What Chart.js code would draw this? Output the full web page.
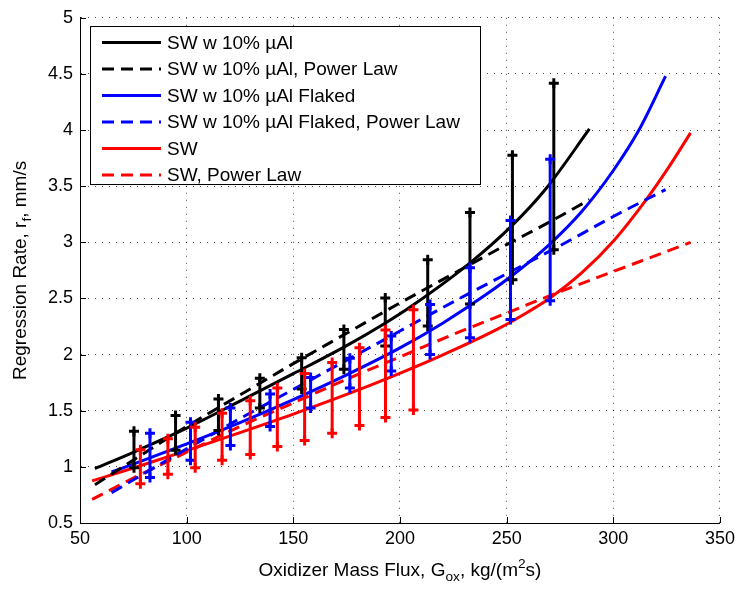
<!DOCTYPE html>
<html>
<head>
<meta charset="utf-8">
<script src="https://cdn.jsdelivr.net/npm/chart.js@4.4.0/dist/chart.umd.min.js"></script>
<style>
  html, body { margin: 0; padding: 0; background: #fff; }
  #wrap { width: 740px; height: 589px; }
</style>
</head>
<body>
<div id="wrap"><canvas id="chart" width="740" height="589"></canvas></div>
<script>
// ---- tick labels ----
const xTicks = [50, 100, 150, 200, 250, 300, 350];
const yTicks = [0.5, 1, 1.5, 2, 2.5, 3, 3.5, 4, 4.5, 5];

// ---- series names ----
const seriesNames = [
  'SW w 10% \u00b5Al',
  'SW w 10% \u00b5Al, Power Law',
  'SW w 10% \u00b5Al Flaked',
  'SW w 10% \u00b5Al Flaked, Power Law',
  'SW',
  'SW, Power Law'
];

// ---- fitted curves ----
const alFitX = [57, 75, 100, 125, 150, 175, 193, 206, 233, 252, 268.5, 288.8];
const alFitY = [0.985, 1.13, 1.345, 1.585, 1.83, 2.08, 2.28, 2.44, 2.82, 3.14, 3.48, 4.01];
const alPowX = [57, 75, 100, 125, 150, 175, 200, 225, 250, 270, 288.8];
const alPowY = [0.84, 1.06, 1.36, 1.64, 1.92, 2.19, 2.46, 2.72, 2.98, 3.18, 3.38];

const flFitX = [64.8, 80, 100, 125, 150, 175, 200, 220, 240, 255, 270, 285, 300, 312, 324.5];
const flFitY = [0.954, 1.06, 1.205, 1.395, 1.60, 1.82, 2.06, 2.28, 2.53, 2.74, 2.98, 3.27, 3.64, 4.00, 4.48];
const flPowX = [64.8, 80, 100, 125, 150, 175, 200, 225, 250, 275, 300, 324.5];
const flPowY = [0.77, 0.94, 1.16, 1.43, 1.69, 1.95, 2.21, 2.47, 2.72, 2.97, 3.23, 3.47];

const swFitX = [55.7, 75, 100, 125, 150, 175, 195, 218, 245, 260, 270, 285, 300, 315, 326, 336.2];
const swFitY = [0.875, 0.99, 1.145, 1.305, 1.47, 1.645, 1.795, 1.98, 2.22, 2.38, 2.50, 2.725, 3.01, 3.37, 3.67, 3.975];
const swPowX = [55.7, 75, 100, 125, 150, 175, 200, 225, 250, 275, 300, 336.2];
const swPowY = [0.71, 0.90, 1.13, 1.36, 1.57, 1.78, 1.98, 2.18, 2.37, 2.56, 2.74, 3.00];

// ---- measured error bars ----
const alBarX  = [75.3, 94.8, 114.9, 134.3, 153.9, 173.7, 193.1, 213.0, 232.8, 252.7, 272.1];
const alBarLo = [0.993, 1.147, 1.324, 1.525, 1.693, 1.87, 2.077, 2.254, 2.45, 2.667, 2.933];
const alBarHi = [1.318, 1.457, 1.604, 1.79, 1.973, 2.224, 2.504, 2.845, 3.266, 3.775, 4.418];

const flBarX  = [82.8, 101.8, 120.5, 139.1, 158.1, 176.5, 195.9, 214.1, 232.8, 251.8, 270.4];
const flBarLo = [0.905, 1.058, 1.19, 1.36, 1.525, 1.702, 1.855, 2.0, 2.15, 2.313, 2.48];
const flBarHi = [1.30, 1.397, 1.525, 1.649, 1.796, 1.968, 2.165, 2.446, 2.773, 3.195, 3.74];

const swBarX  = [78.3, 91.2, 104.0, 116.6, 129.8, 142.5, 155.3, 168.2, 181.0, 193.2, 206.3];
const swBarLo = [0.85, 0.934, 0.993, 1.058, 1.11, 1.182, 1.235, 1.30, 1.368, 1.44, 1.507];
const swBarHi = [1.153, 1.25, 1.353, 1.477, 1.59, 1.702, 1.831, 1.929, 2.061, 2.22, 2.40];

const BLACK = '#000000', BLUE = '#0000ff', RED = '#ff0000';
const FONT = "'Liberation Sans', Arial, Helvetica, sans-serif";
const DASH = [12, 7];

function fitSet(label, xs, ys, color, dashed){
  return {
    label: label,
    data: xs.map((x, i) => ({ x: x, y: ys[i] })),
    borderColor: color,
    backgroundColor: color,
    borderWidth: 3,
    borderDash: dashed ? DASH : [],
    pointRadius: 0,
    cubicInterpolationMode: 'monotone',
    fill: false,
    order: 10
  };
}

// each error bar = a two point line with '+' markers at both ends
function barSets(xs, lo, hi, color, order){
  return xs.map((x, i) => ({
    label: '',
    isBar: true,
    data: [{ x: x, y: lo[i] }, { x: x, y: hi[i] }],
    borderColor: color,
    backgroundColor: color,
    borderWidth: 3,
    pointStyle: 'cross',
    pointRadius: 5,
    pointBorderWidth: 3,
    pointBorderColor: color,
    fill: false,
    order: order
  }));
}

const datasets = [
  fitSet(seriesNames[0], alFitX, alFitY, BLACK, false),
  fitSet(seriesNames[1], alPowX, alPowY, BLACK, true),
  fitSet(seriesNames[2], flFitX, flFitY, BLUE, false),
  fitSet(seriesNames[3], flPowX, flPowY, BLUE, true),
  fitSet(seriesNames[4], swFitX, swFitY, RED, false),
  fitSet(seriesNames[5], swPowX, swPowY, RED, true)
].concat(
  barSets(alBarX, alBarLo, alBarHi, BLACK, 3),
  barSets(flBarX, flBarLo, flBarHi, BLUE, 2),
  barSets(swBarX, swBarLo, swBarHi, RED, 1)
);

// text with sub/superscripts
function drawRich(ctx, parts, x, y, size){
  let w = 0;
  parts.forEach(p => {
    ctx.font = ((p.sub || p.sup) ? size * 0.72 : size) + 'px ' + FONT;
    w += ctx.measureText(p.t).width;
  });
  let cx = x - w / 2;
  parts.forEach(p => {
    const s = (p.sub || p.sup) ? size * 0.72 : size;
    ctx.font = s + 'px ' + FONT;
    const dy = p.sub ? size * 0.35 : (p.sup ? -size * 0.38 : 0);
    ctx.fillText(p.t, cx, y + dy);
    cx += ctx.measureText(p.t).width;
  });
}

const annotations = {
  id: 'annotations',
  afterDraw(chart){
    const ctx = chart.ctx;
    const area = chart.chartArea;
    const sx = chart.scales.x, sy = chart.scales.y;
    ctx.save();

    // inward tick marks, matlab style
    ctx.strokeStyle = '#000';
    ctx.lineWidth = 1;
    ctx.beginPath();
    xTicks.forEach(v => {
      const px = Math.round(sx.getPixelForValue(v)) + 0.5;
      ctx.moveTo(px, area.bottom); ctx.lineTo(px, area.bottom - 6);
    });
    yTicks.forEach(v => {
      const py = Math.round(sy.getPixelForValue(v)) + 0.5;
      ctx.moveTo(area.left, py); ctx.lineTo(area.left + 6, py);
    });
    ctx.stroke();

    ctx.fillStyle = '#000';
    ctx.textAlign = 'left';
    ctx.textBaseline = 'middle';

    // axis titles
    drawRich(ctx, [
      { t: 'Oxidizer Mass Flux, G' }, { t: 'ox', sub: true },
      { t: ', kg/(m' }, { t: '2', sup: true }, { t: 's)' }
    ], (area.left + area.right) / 2, 571, 19);

    ctx.save();
    ctx.translate(21, (area.top + area.bottom) / 2);
    ctx.rotate(-Math.PI / 2);
    drawRich(ctx, [
      { t: 'Regression Rate, r' }, { t: 'f', sub: true }, { t: ', mm/s' }
    ], 0, 0, 19);
    ctx.restore();

    // boxed legend
    const bx = 90.5, by = 26.5, bw = 390, bh = 158;
    ctx.fillStyle = '#fff';
    ctx.fillRect(bx, by, bw, bh);
    ctx.strokeStyle = '#000';
    ctx.lineWidth = 1;
    ctx.setLineDash([]);
    ctx.strokeRect(bx, by, bw, bh);

    const fits = chart.data.datasets.filter(d => !d.isBar);
    fits.forEach((d, i) => {
      const y = 42.5 + i * 26.5;
      ctx.save();
      ctx.strokeStyle = d.borderColor;
      ctx.lineWidth = 3;
      ctx.setLineDash(d.borderDash || []);
      ctx.beginPath();
      ctx.moveTo(102, y);
      ctx.lineTo(161, y);
      ctx.stroke();
      ctx.restore();
      ctx.fillStyle = '#000';
      ctx.font = '19px ' + FONT;
      ctx.fillText(d.label, 167, y + 1);
    });
    ctx.restore();
  }
};

new Chart(document.getElementById('chart'), {
  type: 'line',
  data: { datasets: datasets },
  options: {
    responsive: false,
    animation: false,
    layout: { padding: { top: 15, right: 17, left: 0, bottom: 0 } },
    plugins: { legend: { display: false }, tooltip: { enabled: false } },
    scales: {
      x: {
        type: 'linear',
        min: 50, max: 350,
        afterBuildTicks: s => { s.ticks = xTicks.map(v => ({ value: v })); },
        afterFit: s => { s.height = 66; },
        ticks: { color: '#000', font: { size: 18, family: FONT }, padding: 5, maxRotation: 0,
                 callback: v => String(v) },
        grid: { color: 'rgba(0,0,0,0.7)', lineWidth: 1, drawTicks: false },
        border: { display: true, color: '#000', width: 1, dash: [1, 6] }
      },
      y: {
        type: 'linear',
        min: 0.5, max: 5,
        afterBuildTicks: s => { s.ticks = yTicks.map(v => ({ value: v })); },
        afterFit: s => { s.width = 80; },
        ticks: { color: '#000', font: { size: 18, family: FONT }, padding: 7,
                 callback: v => String(v) },
        grid: { color: 'rgba(0,0,0,0.7)', lineWidth: 1, drawTicks: false },
        border: { display: true, color: '#000', width: 1, dash: [1, 6] }
      }
    }
  },
  plugins: [annotations]
});
</script>
</body>
</html>
